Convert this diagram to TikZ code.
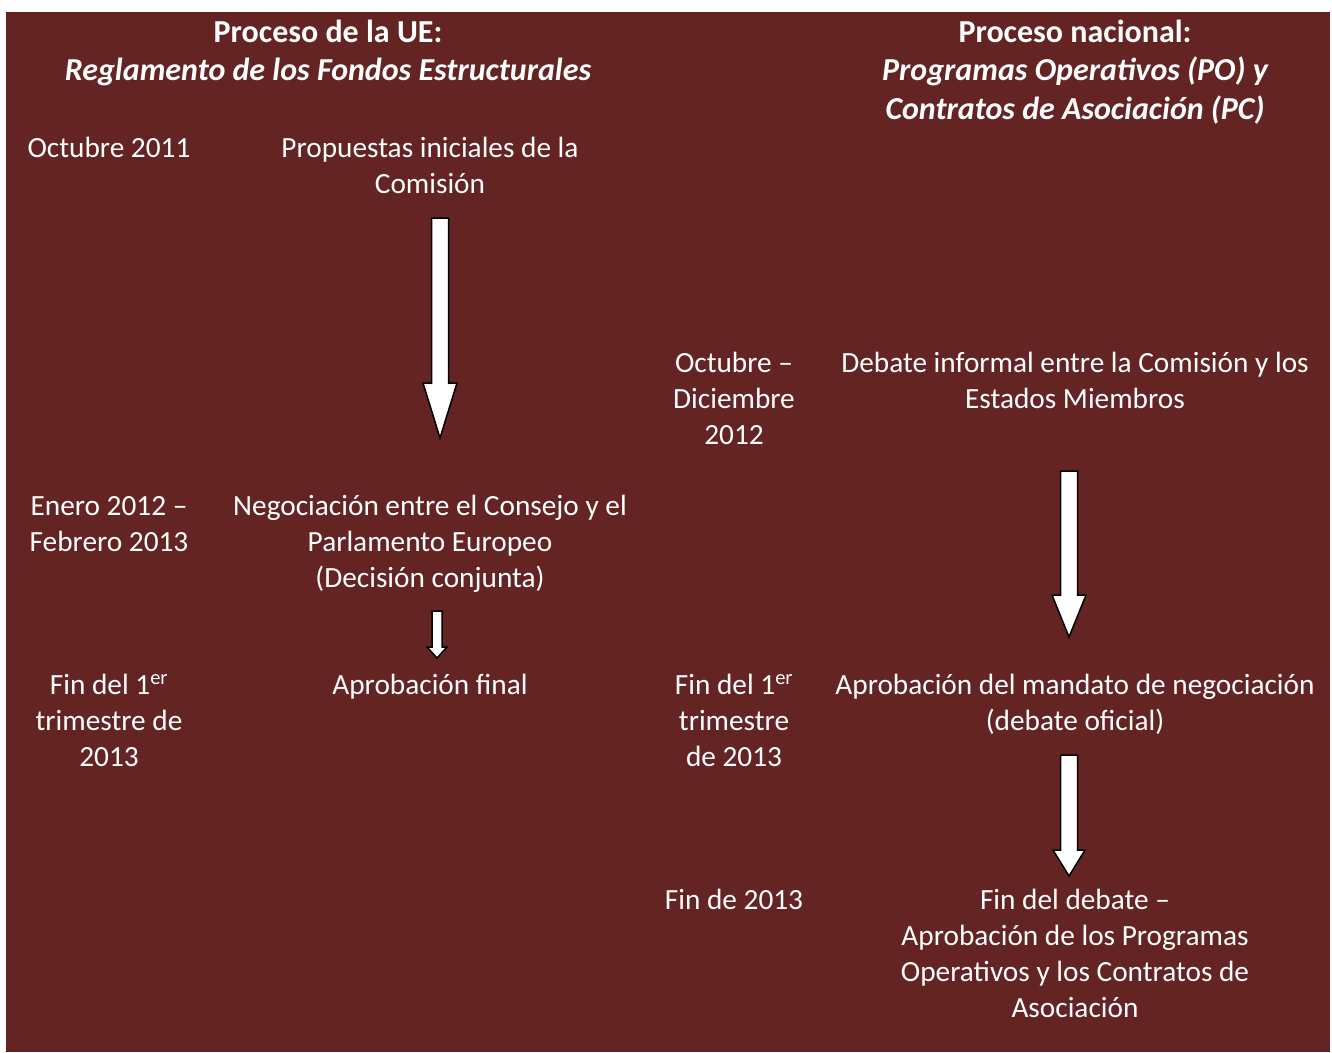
\documentclass[tikz,border=0pt]{standalone}
\usepackage{fontspec}
\setmainfont{Carlito}
\definecolor{granate}{HTML}{632423}
\tikzset{
  texto/.style={text=white, align=center, anchor=base, inner sep=0pt, font=\fontsize{29.3}{36}\selectfont},
  titulo/.style={texto, font=\fontsize{32}{38.5}\selectfont\bfseries},
  flecha/.style={draw=black, fill=white, line width=1.5pt, line join=miter},
}
% flecha de bloque: x, y arriba, y cabeza, y punta, semiancho del cuerpo, semiancho de la cabeza
\newcommand{\flechabloque}[6]{%
  \draw[flecha] ({#1-#5},#2) -- ({#1+#5},#2) -- ({#1+#5},#3) -- ({#1+#6},#3) -- (#1,#4)
                -- ({#1-#6},#3) -- ({#1-#5},#3) -- cycle;}
\begin{document}
\begin{tikzpicture}[x=1pt, y=-1pt]
        % Fondo
        \useasboundingbox (0,0) rectangle (1332,1052);
        \fill[granate] (6,12) rectangle (1330,1052);
        % Cabeceras (ancla en la base de la ultima linea)
        \node[titulo] (tituloue) at (328,80.5) {Proceso de la UE:\\\itshape Reglamento de los Fondos Estructurales};
        \node[titulo] (titulonac) at (1075,119) {Proceso nacional:\\\itshape Programas Operativos (PO) y\\\itshape Contratos de Asociación (PC)};
        % Proceso de la UE
        \node[texto] (fechaue1) at (109,157) {Octubre 2011};
        \node[texto] (pasoue1) at (430,193) {Propuestas iniciales de la\\Comisión};
        \node[texto] (fechaue2) at (109,551) {Enero 2012 –\\Febrero 2013};
        \node[texto] (pasoue2) at (430,587) {Negociación entre el Consejo y el\\Parlamento Europeo\\(Decisión conjunta)};
        \node[texto] (fechaue3) at (109,766) {Fin del 1\textsuperscript{er}\\trimestre de\\2013};
        \node[texto] (pasoue3) at (430,694) {Aprobación final};
        % Proceso nacional
        \node[texto] (fechanac1) at (734,444) {Octubre –\\Diciembre\\2012};
        \node[texto] (pasonac1) at (1075,408) {Debate informal entre la Comisión y los\\Estados Miembros};
        \node[texto] (fechanac2) at (734,766) {Fin del 1\textsuperscript{er}\\trimestre\\de 2013};
        \node[texto] (pasonac2) at (1075,730) {Aprobación del mandato de negociación\\(debate oficial)};
        \node[texto] (fechanac3) at (734,909) {Fin de 2013};
        \node[texto] (pasonac3) at (1075,1017) {Fin del debate –\\Aprobación de los Programas\\Operativos y los Contratos de\\Asociación};
        % Flechas
        \flechabloque{440}{218}{383}{438}{8.5}{17}
        \flechabloque{437}{611}{647}{658}{5}{10}
        \flechabloque{1069}{471}{595}{637}{8.5}{17}
        \flechabloque{1069}{755}{850}{876}{8.5}{16}
\end{tikzpicture}
\end{document}
